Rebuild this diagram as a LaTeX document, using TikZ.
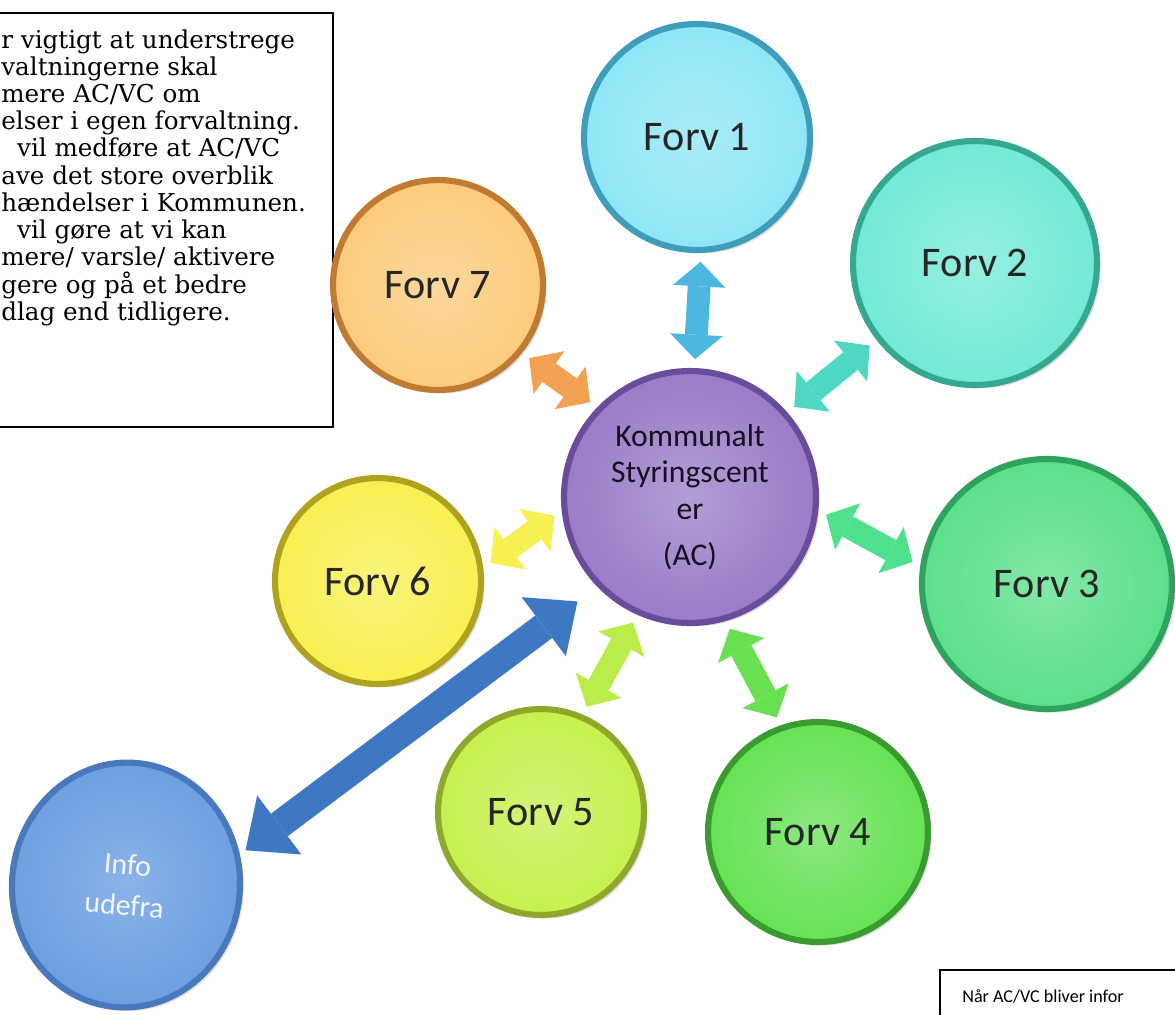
\documentclass[tikz,border=0pt]{standalone}
\usepackage{fontspec}
\setmainfont{DejaVu Serif}
\newfontfamily\calibri{Carlito}
\usetikzlibrary{arrows.meta,shapes.geometric,shadows}
\definecolor{fvCyan}{HTML}{8EE6F6}
\definecolor{fvCyanD}{HTML}{3E9DBA}
\definecolor{fvTeal}{HTML}{72EAD6}
\definecolor{fvTealD}{HTML}{36A892}
\definecolor{fvGreen}{HTML}{5BE08A}
\definecolor{fvGreenD}{HTML}{2FA35E}
\definecolor{fvLeaf}{HTML}{66E255}
\definecolor{fvLeafD}{HTML}{3A9C2E}
\definecolor{fvLime}{HTML}{C6F04E}
\definecolor{fvLimeD}{HTML}{8FA82C}
\definecolor{fvYellow}{HTML}{F8F052}
\definecolor{fvYellowD}{HTML}{B0A21E}
\definecolor{fvOrange}{HTML}{FCCB7C}
\definecolor{fvOrangeD}{HTML}{C07A32}
\definecolor{acPurple}{HTML}{9A7CC8}
\definecolor{acPurpleD}{HTML}{6A4C9C}
\definecolor{infoBlue}{HTML}{6C9FE2}
\definecolor{infoBlueD}{HTML}{4A78BC}
\definecolor{arF1}{HTML}{4CB8E2}
\definecolor{arF2}{HTML}{4ED8C2}
\definecolor{arF3}{HTML}{4EE08C}
\definecolor{arF4}{HTML}{68E052}
\definecolor{arF5}{HTML}{BAEC4A}
\definecolor{arF6}{HTML}{F6F052}
\definecolor{arF7}{HTML}{F2A052}
\definecolor{arInfo}{HTML}{3F78C2}
\begin{document}
\begin{tikzpicture}[x=0.02cm,y=-0.02cm]
    \tikzset{
        forv/.style 2 args={circle, shade, inner color=#1!75!white, outer color=#1,
            draw=#2, line width=3.5pt, inner sep=0pt,
            font=\calibri\fontsize{24}{28}\selectfont, text=black!85,
            drop shadow={opacity=0.25, shadow xshift=2pt, shadow yshift=-2pt}},
        dtip/.tip={Triangle[length=14pt,width=30pt,line width'=0pt]},
        btip/.tip={Triangle[length=24pt,width=42pt,line width'=0pt]},
        dbl/.style={draw=#1, line width=13pt, dtip-dtip, shorten <=5pt, shorten >=5pt},
        big/.style={draw=arInfo, line width=16pt, btip-btip, shorten <=4pt, shorten >=14pt},
    }
    \useasboundingbox (0,0) rectangle (1175,1014);
    % note box, cut at the left edge
    \draw[line width=0.8pt] (-20,13) rectangle (333,427);
    \node[anchor=north west, align=left, inner sep=0pt, font=\fontsize{14}{15.5}\selectfont] (note) at (1,29) {%
        r vigtigt at understrege\\
        valtningerne skal\\
        mere AC/VC om\\
        elser i egen forvaltning.\\
        \hspace{9pt}vil medføre at AC/VC\\
        ave det store overblik\\
        hændelser i Kommunen.\\
        \hspace{9pt}vil gøre at vi kan\\
        mere/ varsle/ aktivere\\
        gere og på et bedre\\
        dlag end tidligere.};
    % centre
    \node[forv={acPurple}{acPurpleD}, minimum size=5.04cm, align=center,
        font=\calibri\fontsize{18}{21}\selectfont, text=black!80!acPurpleD] (ac) at (690,497)
        {Kommunalt\\Styringscent\\er\\[5pt](AC)};
    % forvaltninger
    \foreach \n/\x/\y/\d/\fc/\dc/\t in {
        f1/697/137/4.52/fvCyan/fvCyanD/Forv 1,
        f2/975/263/4.88/fvTeal/fvTealD/Forv 2,
        f3/1047/584/5.0/fvGreen/fvGreenD/Forv 3,
        f4/818/832/4.4/fvLeaf/fvLeafD/Forv 4,
        f5/541/812/4.12/fvLime/fvLimeD/Forv 5,
        f6/378/581/4.12/fvYellow/fvYellowD/Forv 6,
        f7/438/285/4.2/fvOrange/fvOrangeD/Forv 7}{
        \node[forv={\fc}{\dc}, minimum size=\d cm] (\n) at (\x,\y) {\t};}
    \node[ellipse, shade, inner color=infoBlue!80!white, outer color=infoBlue, draw=infoBlueD,
        line width=3.5pt, minimum width=4.56cm, minimum height=4.9cm, rotate=-5, align=center,
        text=white!92!infoBlue, font=\calibri\fontsize{17}{23}\selectfont,
        drop shadow={opacity=0.25, shadow xshift=2pt, shadow yshift=-2pt}] (info) at (126,885) {Info\\udefra};
    % arrows to the centre
    \foreach \f/\a/\b/\c in {f1/272/88/arF1, f2/218/41/arF2, f3/172/-6/arF3, f4/109/286/arF4,
        f5/67/246/arF5, f6/7/186/arF6, f7/321/136/arF7}{
        \draw[dbl=\c] (\f.\a) -- (ac.\b);}
    \draw[big] (info.20) -- (ac.224);
    % second note, cut at the right edge
    \draw[line width=0.6pt] (940,970) rectangle (1200,1040);
    \node[anchor=base west, inner sep=0pt, font=\calibri\fontsize{10.3}{12}\selectfont] (when) at (962,1002) {Når AC/VC bliver infor};
\end{tikzpicture}
\end{document}
